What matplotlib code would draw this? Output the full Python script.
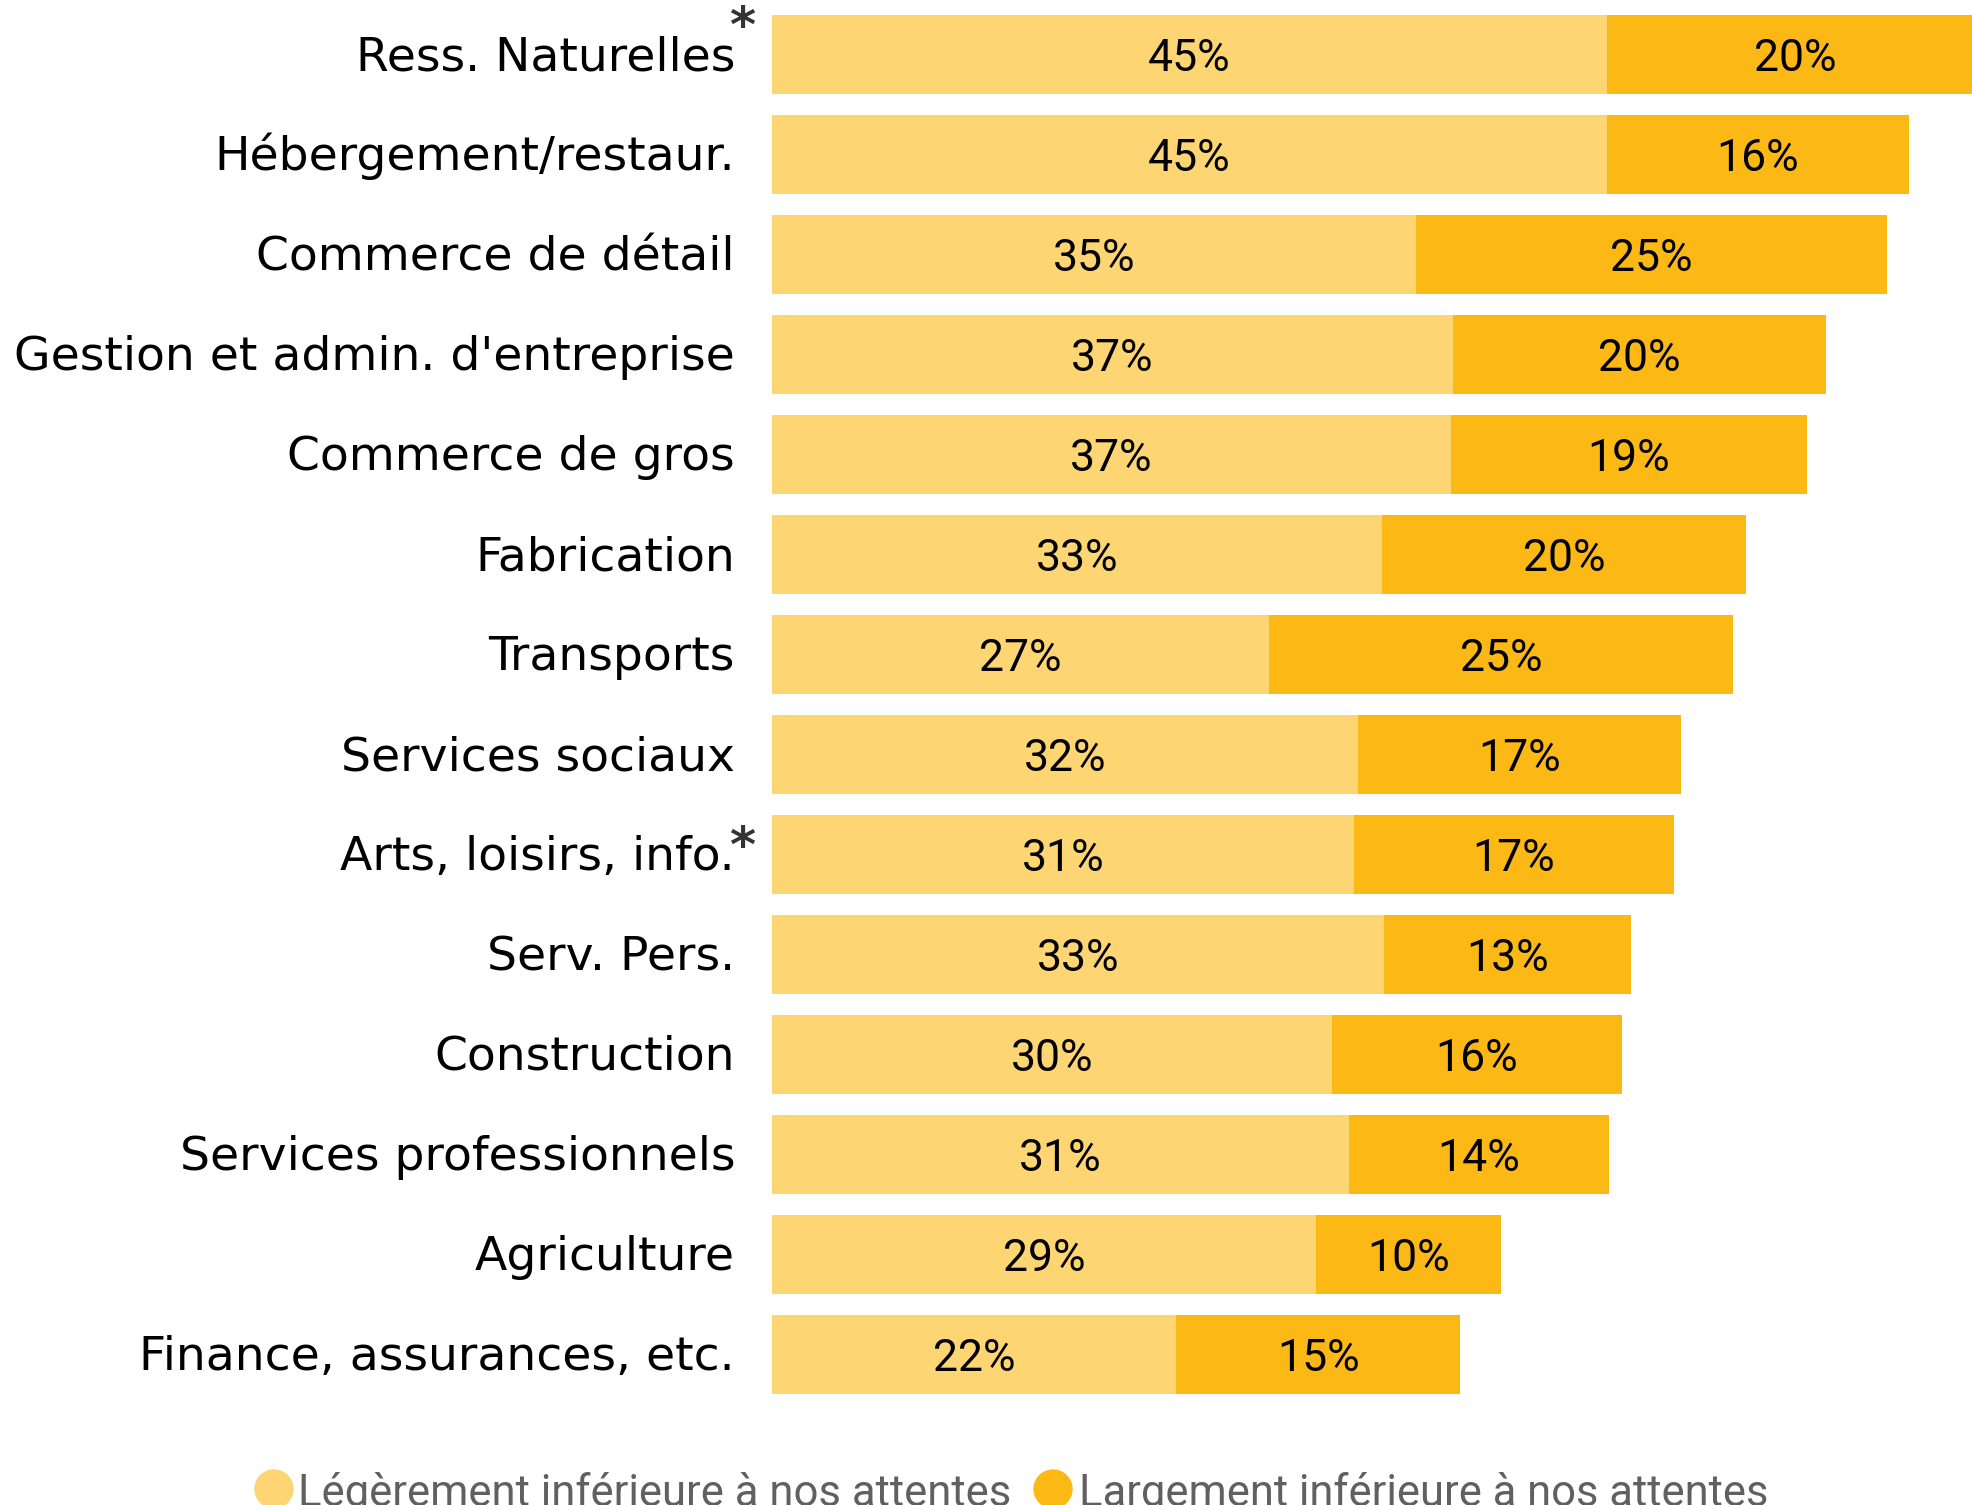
import matplotlib.pyplot as plt
from matplotlib.patches import Circle
from matplotlib.transforms import offset_copy

# === Data ===
categories = [
    "Ress. Naturelles",
    "Hébergement/restaur.",
    "Commerce de détail",
    "Gestion et admin. d'entreprise",
    "Commerce de gros",
    "Fabrication",
    "Transports",
    "Services sociaux",
    "Arts, loisirs, info.",
    "Serv. Pers.",
    "Construction",
    "Services professionnels",
    "Agriculture",
    "Finance, assurances, etc.",
]
leger = [45.0, 45.0, 34.7, 36.7, 36.6, 32.9, 26.8, 31.6, 31.4, 33.0, 30.2, 31.1, 29.3, 21.8]
largement = [20.3, 16.3, 25.4, 20.1, 19.2, 19.6, 25.0, 17.4, 17.2, 13.3, 15.6, 14.0, 10.0, 15.3]
footnote = [True, False, False, False, False, False, False, False, True, False, False, False, False, False]
legend_labels = ["Légèrement inférieure à nos attentes", "Largement inférieure à nos attentes"]

LIGHT = "#FDD572"
DARK = "#FCB916"
NUM_FONT = ["Roboto", "DejaVu Sans"]

# === Figure (pixel layout of 1972 x 1505) ===
W, H = 1972, 1505
fig = plt.figure(figsize=(W / 100, H / 100), dpi=100)
ax = fig.add_axes([772 / W, 0, 1200 / W, 1])

n = len(categories)
rows = list(range(n))
ax.barh(rows, leger, height=0.79, color=LIGHT)
ax.barh(rows, largement, left=leger, height=0.79, color=DARK)

ax.set_xlim(0, 1200 / 18.55)
ax.set_ylim((H - 54) / 100, -0.54)
ax.axis("off")

# segment values
for i in rows:
    ax.text(leger[i] / 2, i + 0.17, f"{leger[i]:.0f}%", ha="center", va="baseline",
            fontsize=32, family=NUM_FONT, color="black")
    ax.text(leger[i] + largement[i] / 2, i + 0.17, f"{largement[i]:.0f}%", ha="center",
            va="baseline", fontsize=32, family=NUM_FONT, color="black")

# category labels + asterisks
lab_tr = offset_copy(ax.get_yaxis_transform(), fig, x=-37, y=0, units="dots")
star_tr = offset_copy(ax.get_yaxis_transform(), fig, x=-30, y=0, units="dots")
for i, name in enumerate(categories):
    ax.text(0, i + 0.16, name, transform=lab_tr, ha="right", va="baseline",
            fontsize=34, family="DejaVu Sans", color="black")
    if footnote[i]:
        rise = 0.28 if i == 0 else 0.08
        ax.text(0, i + 0.16 - rise, "*", transform=star_tr, ha="center", va="baseline",
                fontsize=36, fontweight="bold", family="DejaVu Sans", color="#333333")

# legend at the bottom (cut by the image border as in the original)
renderer = fig.canvas.get_renderer()
for (cx, tx, tw), label, col in zip([(274, 298, 714), (1053, 1079, 691)], legend_labels, [LIGHT, DARK]):
    fig.patches.append(Circle((cx / 100, (H - 1489) / 100), 0.19, color=col,
                              transform=fig.dpi_scale_trans))
    t = fig.text(tx / W, 1 - 1506 / H, label, ha="left", va="baseline",
                 fontsize=32, family=NUM_FONT, color="#606060")
    w = t.get_window_extent(renderer).width
    t.set_fontsize(32 * tw / w)

fig.savefig("out.png", dpi=100)
